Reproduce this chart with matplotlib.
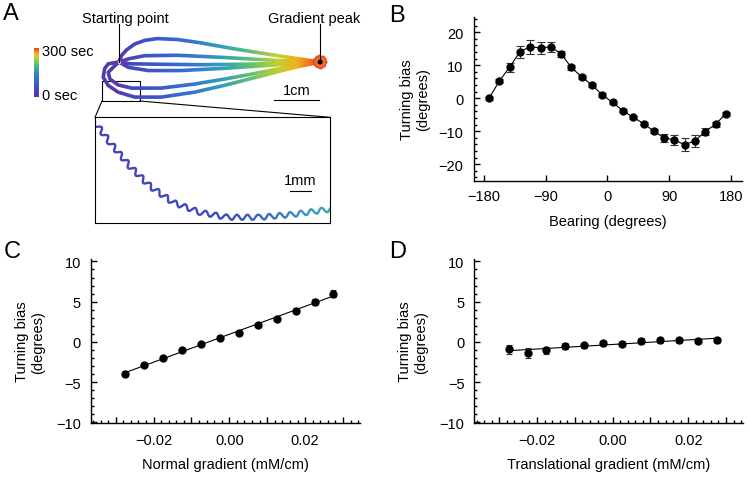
import matplotlib
matplotlib.use('Agg')
import matplotlib.pyplot as plt
import numpy as np
from matplotlib.collections import LineCollection
from matplotlib.colors import LinearSegmentedColormap, Normalize
from matplotlib.patches import Rectangle, Circle
from matplotlib.ticker import MultipleLocator, FuncFormatter
from matplotlib.cm import ScalarMappable

plt.rcParams['font.family'] = ['Liberation Sans', 'DejaVu Sans']
plt.rcParams['font.size'] = 10.5
plt.rcParams['axes.linewidth'] = 1.0

W, H = 750, 481

# ---- panel B: turning bias vs bearing
bearing = [-172.5, -157.5, -142.5, -127.5, -112.5, -97.5, -82.5, -67.5, -52.5, -37.5, -22.5, -7.5,
           7.5, 22.5, 37.5, 52.5, 67.5, 82.5, 97.5, 112.5, 127.5, 142.5, 157.5, 172.5]
bias_b = [0.0, 5.2, 9.4, 14.1, 15.6, 15.2, 15.6, 13.4, 9.3, 6.4, 4.0, 1.0,
          -1.3, -3.8, -5.8, -7.7, -10.0, -12.0, -12.7, -14.1, -12.9, -10.1, -7.9, -4.7]
err_b = [0.5, 0.6, 1.4, 1.8, 2.1, 1.8, 1.5, 0.9, 0.7, 0.5, 0.5, 0.5,
         0.5, 0.5, 0.5, 0.5, 0.7, 1.2, 1.5, 2.0, 1.8, 1.2, 0.8, 0.6]

# ---- panels C, D: turning bias vs gradient components
grad = [-0.0275, -0.0225, -0.0175, -0.0125, -0.0075, -0.0025,
        0.0025, 0.0075, 0.0125, 0.0175, 0.0225, 0.0275]
bias_c = [-3.95, -2.9, -1.95, -1.0, -0.25, 0.47, 1.1, 2.1, 2.9, 3.85, 4.95, 6.0]
err_c = [0.3, 0.25, 0.25, 0.25, 0.25, 0.25, 0.25, 0.25, 0.25, 0.3, 0.4, 0.45]
bias_d = [-0.93, -1.4, -1.06, -0.5, -0.42, -0.17, -0.25, 0.08, 0.2, 0.2, 0.17, 0.2]
err_d = [0.6, 0.6, 0.45, 0.4, 0.3, 0.3, 0.3, 0.35, 0.3, 0.3, 0.3, 0.3]

# ---- panel A: example trajectories (cm, relative to starting point)
traj_x = [
    [0, 0.06, 0.17, 0.35, 0.57, 0.85, 1.3, 1.79, 2.52, 3.27, 4.0, 4.47],
    [0, 0.21, 0.57, 1.31, 2.34, 3.4, 4.47],
    [0, 0.25, 0.9, 1.8, 2.8, 3.7, 4.47],
    [0, 0.21, 0.65, 1.38, 2.34, 3.4, 4.47],
    [0, -0.09, -0.24, -0.2, -0.02, 0.28, 0.94, 1.68, 2.34, 3.0, 3.7, 4.47],
    [0, -0.24, -0.32, -0.35, -0.24, -0.02, 0.35, 0.94, 1.68, 2.34, 3.2, 3.9, 4.47],
]
traj_y = [
    [0, 0.15, 0.27, 0.40, 0.48, 0.52, 0.50, 0.43, 0.30, 0.18, 0.07, 0],
    [0, 0.07, 0.14, 0.15, 0.10, 0.04, 0],
    [0, -0.04, -0.05, -0.06, -0.05, -0.03, 0],
    [0, -0.12, -0.19, -0.19, -0.14, -0.07, 0],
    [0, -0.08, -0.23, -0.38, -0.51, -0.58, -0.58, -0.49, -0.38, -0.26, -0.12, 0],
    [0, -0.04, -0.15, -0.34, -0.52, -0.67, -0.78, -0.78, -0.67, -0.52, -0.30, -0.12, 0],
]
peak = (4.47, 0.0)

# zoomed stretch of the bottom trajectory (mm)
zoom_x = [0, 0.72, 1.69, 2.66, 3.77, 5.07, 6.38, 7.97, 9.57, 11.35]
zoom_y = [4.87, 3.91, 2.75, 1.79, 1.01, 0.53, 0.29, 0.29, 0.43, 0.68]

time_cmap = LinearSegmentedColormap.from_list('time', [
    (0.0, '#4a3cb0'), (0.08, '#6236a8'), (0.13, '#4646bc'), (0.25, '#3a58c8'),
    (0.42, '#3676cc'), (0.55, '#30a0b8'), (0.68, '#60c070'), (0.80, '#c0d030'),
    (0.89, '#f0b020'), (0.95, '#f07020'), (1.0, '#e84020')])
zoom_cmap = LinearSegmentedColormap.from_list('zoomc', [
    (0.0, '#4444b8'), (0.55, '#3a4cc0'), (0.75, '#3a6ec8'), (0.88, '#3a90c0'), (1.0, '#3aa8b0')])


def px_axes(l, t, r, b):
    return fig.add_axes([l / W, 1 - b / H, (r - l) / W, (b - t) / H])


def style(ax):
    for s in ['top', 'right']:
        ax.spines[s].set_visible(False)
    ax.tick_params(which='both', direction='in', width=1.0)
    ax.tick_params(which='major', length=4)
    ax.tick_params(which='minor', length=2.5)


def grad_fmt(v, pos):
    k = int(round(v / 0.01))
    if k % 2:
        return ''
    return '{:.2f}'.format(k * 0.01).replace('-', '\u2212')


fig = plt.figure(figsize=(7.5, 4.81), dpi=100)

# ---------------- panel A
PXCM = 45.0
ax_a = px_axes(0, 0, 375, 240)
ax_a.set_xlim(-119 / PXCM, (375 - 119) / PXCM)
ax_a.set_ylim((63 - 240) / PXCM, 63 / PXCM)
ax_a.axis('off')

segs = [np.column_stack([tx, ty]) for tx, ty in zip(traj_x, traj_y)]
norm_x = Normalize(-0.4, 4.5, clip=True)
edges = np.linspace(-0.6, 4.8, 110)
for x0, x1 in zip(edges[:-1], edges[1:]):
    lc = LineCollection(segs, colors=[time_cmap(norm_x((x0 + x1) / 2))], linewidths=2.6,
                        capstyle='round', joinstyle='round')
    ax_a.add_collection(lc)
    lc.set_clip_path(Rectangle((x0, -2), x1 - x0, 4, transform=ax_a.transData))

ax_a.plot([0], [0], 'o', ms=2.2, color='#f4d8f0', mec='none')
blob = Circle(peak, 0.14, fc='#f26a2a', ec='#e8482a', lw=1.0, zorder=5)
blob.set_sketch_params(0.6, 3, 1.5)
ax_a.add_patch(blob)
ax_a.add_patch(Circle(peak, 0.055, fc='black', ec='none', zorder=6))

# leader lines
ax_a.plot([0, 0], [0, 0.84], color='black', lw=0.8)
ax_a.plot([peak[0], peak[0]], [0, 0.84], color='black', lw=0.8, zorder=7)
fig.text(125 / W, 1 - 18.5 / H, 'Starting point', ha='center', va='center')
fig.text(314 / W, 1 - 18.5 / H, 'Gradient peak', ha='center', va='center')

# scale bar
ax_a.plot([3.45, 4.45], [-0.84, -0.84], color='black', lw=0.8)
ax_a.text(3.95, -0.62, '1cm', ha='center', va='center')

# zoom box and connectors
ax_a.add_patch(Rectangle((-0.378, -0.867), 0.845, 0.445, fc='none', ec='black', lw=0.8))
ax_a.plot([-0.378, -0.533], [-0.867, -1.229], color='black', lw=0.8)
ax_a.plot([0.467, 4.689], [-0.867, -1.229], color='black', lw=0.8)

# time colorbar
cax = px_axes(33.5, 49, 38.5, 98)
cb = fig.colorbar(ScalarMappable(norm=Normalize(0, 300), cmap=time_cmap), cax=cax)
cb.outline.set_visible(False)
cb.set_ticks([])
fig.text(42 / W, 1 - 52.5 / H, '300 sec', ha='left', va='center')
fig.text(42 / W, 1 - 96.5 / H, '0 sec', ha='left', va='center')

# inset
PXMM = 20.7
ax_i = px_axes(95, 118.3, 330, 224.3)
ax_i.set_xlim(0, 235 / PXMM)
ax_i.set_ylim(0, 106 / PXMM)
ax_i.set_xticks([])
ax_i.set_yticks([])
for s in ax_i.spines.values():
    s.set_linewidth(0.8)
zn = Normalize(0, 11.35, clip=True)
zedges = np.linspace(0, 11.4, 40)
for x0, x1 in zip(zedges[:-1], zedges[1:]):
    ln, = ax_i.plot(zoom_x, zoom_y, color=zoom_cmap(zn((x0 + x1) / 2)), lw=1.7,
                    solid_joinstyle='round')
    ln.set_sketch_params(2.6, 10.5, 1)
    ln.set_clip_path(Rectangle((x0, 0), x1 - x0, 106 / PXMM, transform=ax_i.transData))
ax_i.plot([9.42, 10.42], [1.57, 1.57], color='black', lw=0.8)
ax_i.text(9.92, 2.09, '1mm', ha='center', va='center')

# ---------------- panel B
ax_b = px_axes(474.3, 18, 742, 182)
style(ax_b)
ax_b.errorbar(bearing, bias_b, yerr=err_b, fmt='o-', color='black', ms=5, lw=0.8,
              ecolor='#333333', elinewidth=0.8, capsize=2.6, capthick=0.8)
ax_b.set_xlim(-194, 196)
ax_b.set_ylim(-25.1, 24.6)
ax_b.set_xticks([-180, -90, 0, 90, 180])
ax_b.set_yticks([-20, -10, 0, 10, 20])
ax_b.yaxis.set_minor_locator(MultipleLocator(2))
ax_b.tick_params(axis='x', pad=6)
ax_b.tick_params(axis='y', pad=8)
ax_b.set_xlabel('Bearing (degrees)', labelpad=8)
ax_b.set_ylabel('Turning bias\n(degrees)', labelpad=6)

# ---------------- panels C, D
for ax, vals, errs, lab in [
        (px_axes(90.7, 260, 360, 424.3), bias_c, err_c, 'Normal gradient (mM/cm)'),
        (px_axes(474.3, 260, 743, 424.3), bias_d, err_d, 'Translational gradient (mM/cm)')]:
    style(ax)
    fit = np.polyfit(grad, vals, 1)
    ends = [grad[0], grad[-1]]
    ax.plot(ends, np.polyval(fit, ends), color='black', lw=0.8)
    ax.errorbar(grad, vals, yerr=errs, fmt='o', color='black', ms=5,
                ecolor='#333333', elinewidth=0.8, capsize=2.4, capthick=0.8)
    ax.set_xlim(-0.0366, 0.0345)
    ax.set_ylim(-10.12, 10.3)
    ax.xaxis.set_major_locator(MultipleLocator(0.01))
    ax.xaxis.set_major_formatter(FuncFormatter(grad_fmt))
    ax.xaxis.set_minor_locator(MultipleLocator(0.002))
    ax.set_yticks([-10, -5, 0, 5, 10])
    ax.yaxis.set_minor_locator(MultipleLocator(1))
    ax.tick_params(axis='both', pad=7)
    ax.set_xlabel(lab, labelpad=7)
    ax.set_ylabel('Turning bias\n(degrees)', labelpad=8)

# panel letters
for letter, x, y in [('A', 3, 3), ('B', 389, 5), ('C', 4, 241), ('D', 389, 241)]:
    fig.text(x / W, 1 - y / H, letter, fontsize=17, ha='left', va='top')

fig.savefig('out.png', dpi=100)
